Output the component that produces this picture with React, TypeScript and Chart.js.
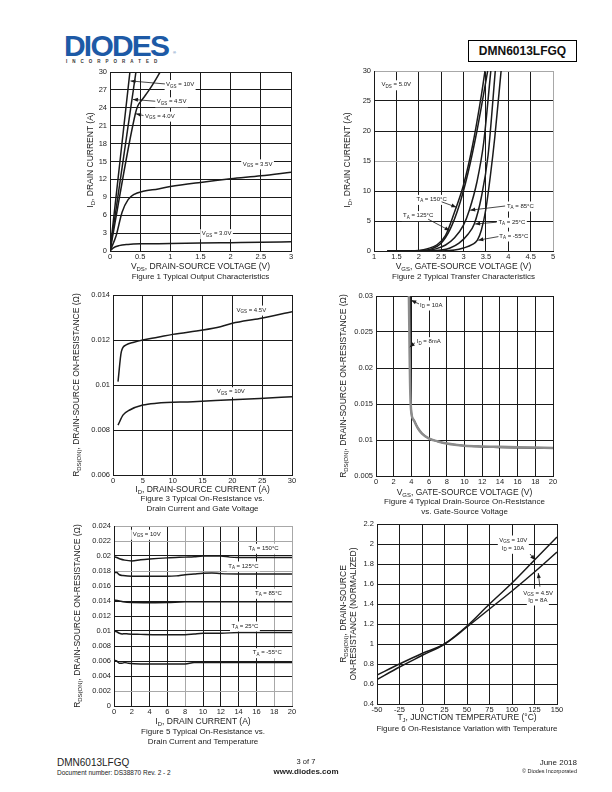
import React, { useEffect, useRef } from "react";
import { Chart, registerables } from "chart.js";
Chart.register(...registerables);

type Pt = [number, number];
const FONT = "'Liberation Sans', Arial, Helvetica, sans-serif";

// ---------------- Figure 1: Typical Output Characteristics
const f1XTicks = [0, 0.5, 1, 1.5, 2, 2.5, 3];
const f1XLabels = ["0", "0.5", "1", "1.5", "2", "2.5", "3"];
const f1YTicks = [0, 3, 6, 9, 12, 15, 18, 21, 24, 27, 30];
const f1YLabels = ["0", "3", "6", "9", "12", "15", "18", "21", "24", "27", "30"];
const f1Vgs10: Pt[] = [[0, 0], [0.33, 30]];
const f1Vgs45: Pt[] = [[0, 0], [0.43, 30]];
const f1Vgs40: Pt[] = [[0, 0], [0.42, 23], [0.46, 24.3], [0.55, 25.6], [0.65, 27], [0.75, 28.6], [0.83, 30]];
const f1Vgs35: Pt[] = [[0, 0], [0.1, 2.5], [0.2, 6.5], [0.3, 8.6], [0.4, 9.5], [0.55, 10], [0.8, 10.4], [1, 10.8], [1.5, 11.5], [2, 12.1], [2.5, 12.6], [3, 13.2]];
const f1Vgs30: Pt[] = [[0, 0], [0.05, 0.5], [0.15, 0.9], [0.3, 1.1], [0.5, 1.2], [1, 1.25], [1.5, 1.35], [2, 1.4], [2.5, 1.45], [3, 1.55]];

// ---------------- Figure 2: Typical Transfer Characteristics
const f2XTicks = [1, 1.5, 2, 2.5, 3, 3.5, 4, 4.5, 5];
const f2XLabels = ["1", "1.5", "2", "2.5", "3", "3.5", "4", "4.5", "5"];
const f2YTicks = [0, 5, 10, 15, 20, 25, 30];
const f2YLabels = ["0", "5", "10", "15", "20", "25", "30"];
const f2T150: Pt[] = [[1.3, 0], [1.8, 0.02], [2.0, 0.1], [2.2, 0.4], [2.4, 1.0], [2.6, 2.6], [2.8, 6.5], [3.0, 11], [3.2, 17.5], [3.4, 26], [3.48, 30]];
const f2T125: Pt[] = [[1.3, 0], [1.9, 0.02], [2.1, 0.1], [2.3, 0.4], [2.5, 1.3], [2.7, 3.6], [2.9, 7.5], [3.1, 13], [3.3, 20], [3.54, 30]];
const f2T85: Pt[] = [[1.3, 0], [2.0, 0.02], [2.2, 0.1], [2.4, 0.4], [2.6, 1.0], [2.8, 2.2], [3.0, 4.3], [3.13, 6.8], [3.3, 11.5], [3.45, 18], [3.61, 30]];
const f2T25: Pt[] = [[1.3, 0], [2.2, 0.02], [2.5, 0.15], [2.7, 0.5], [2.9, 1.3], [3.1, 2.8], [3.24, 4.5], [3.4, 9], [3.55, 16], [3.71, 30]];
const f2Tm55: Pt[] = [[1.3, 0], [2.5, 0.02], [2.8, 0.15], [3.0, 0.5], [3.2, 1.1], [3.31, 1.8], [3.4, 3.5], [3.5, 7], [3.6, 12.5], [3.7, 19], [3.84, 30]];

// ---------------- Figure 3: On-Resistance vs Drain Current and Gate Voltage
const f3XTicks = [0, 5, 10, 15, 20, 25, 30];
const f3XLabels = ["0", "5", "10", "15", "20", "25", "30"];
const f3YTicks = [0.006, 0.008, 0.01, 0.012, 0.014];
const f3YLabels = ["0.006", "0.008", "0.01", "0.012", "0.014"];
const f3Vgs45: Pt[] = [[0.84, 0.01015], [1.4, 0.01148], [2.2, 0.01178], [3.5, 0.0119], [5, 0.012], [7.5, 0.01212], [10, 0.01225], [15, 0.01244], [18, 0.01259], [20, 0.01274], [24.6, 0.01296], [30, 0.01326]];
const f3Vgs10: Pt[] = [[0.84, 0.00822], [1.7, 0.00867], [2.8, 0.00889], [5, 0.00911], [7.3, 0.00919], [13.4, 0.00926], [19, 0.00933], [24.6, 0.0094], [30, 0.00948]];

// ---------------- Figure 4: On-Resistance vs Gate-Source Voltage
const f4XTicks = [0, 2, 4, 6, 8, 10, 12, 14, 16, 18, 20];
const f4XLabels = ["0", "2", "4", "6", "8", "10", "12", "14", "16", "18", "20"];
const f4YTicks = [0.005, 0.01, 0.015, 0.02, 0.025, 0.03];
const f4YLabels = ["0.005", "0.01", "0.015", "0.02", "0.025", "0.03"];
const f4Id8mA: Pt[] = [[3.72, 0.03], [3.76, 0.026], [3.8, 0.022], [3.85, 0.018], [3.92, 0.015], [4.0, 0.0137], [4.3, 0.0127], [4.7, 0.0117], [5.2, 0.0109], [6, 0.0102], [7, 0.0098], [8, 0.0095], [10, 0.0092], [12, 0.0091], [14, 0.00905], [16, 0.009], [18, 0.00895], [20, 0.0089]];
const f4Id10A: Pt[] = [[3.88, 0.03], [3.9, 0.025], [3.93, 0.02], [3.96, 0.016], [4.0, 0.0138], [4.3, 0.0127], [4.7, 0.0117], [5.2, 0.0109], [6, 0.0102], [7, 0.0098], [8, 0.0095], [10, 0.0092], [12, 0.00905], [14, 0.00897], [16, 0.00892], [18, 0.00888], [20, 0.00885]];

// ---------------- Figure 5: On-Resistance vs Drain Current and Temperature
const f5XTicks = [0, 2, 4, 6, 8, 10, 12, 14, 16, 18, 20];
const f5XLabels = ["0", "2", "4", "6", "8", "10", "12", "14", "16", "18", "20"];
const f5YTicks = [0, 0.002, 0.004, 0.006, 0.008, 0.01, 0.012, 0.014, 0.016, 0.018, 0.02, 0.022, 0.024];
const f5YLabels = ["0", "0.002", "0.004", "0.006", "0.008", "0.01", "0.012", "0.014", "0.016", "0.018", "0.02", "0.022", "0.024"];
const f5T150: Pt[] = [[0, 0.0199], [0.3, 0.0198], [0.7, 0.0196], [1.2, 0.01945], [2, 0.01935], [3, 0.0195], [4, 0.0196], [6, 0.01975], [8, 0.01985], [9, 0.0199], [10, 0.02], [12, 0.02], [13, 0.01985], [14, 0.0198], [20, 0.0198]];
const f5T125: Pt[] = [[0, 0.0178], [0.3, 0.0178], [0.6, 0.0175], [1, 0.0174], [2, 0.0173], [4, 0.0173], [6, 0.0173], [7, 0.01735], [8, 0.0175], [9, 0.0176], [10, 0.0177], [11, 0.01775], [12, 0.01765], [14, 0.0176], [20, 0.0176]];
const f5T85: Pt[] = [[0, 0.0141], [0.5, 0.01405], [1, 0.0139], [2, 0.0138], [4, 0.01378], [6, 0.0138], [8, 0.0139], [10, 0.0139], [14, 0.0139], [20, 0.0139]];
const f5T25: Pt[] = [[0, 0.01], [0.3, 0.0099], [0.6, 0.0097], [0.9, 0.0096], [1.2, 0.00965], [1.6, 0.0096], [3, 0.00955], [5, 0.0095], [8, 0.0095], [9, 0.0096], [10, 0.0097], [12, 0.0097], [14, 0.0098], [20, 0.0098]];
const f5Tm55: Pt[] = [[0, 0.0061], [0.3, 0.006], [0.6, 0.0057], [0.9, 0.0057], [1.2, 0.0058], [1.6, 0.0057], [3, 0.0056], [6, 0.0056], [8, 0.0056], [9, 0.0058], [12, 0.0058], [20, 0.0058]];

// ---------------- Figure 6: On-Resistance vs Temperature
const f6XTicks = [-50, -25, 0, 25, 50, 75, 100, 125, 150];
const f6XLabels = ["-50", "-25", "0", "25", "50", "75", "100", "125", "150"];
const f6YTicks = [0.4, 0.6, 0.8, 1, 1.2, 1.4, 1.6, 1.8, 2, 2.2];
const f6YLabels = ["0.4", "0.6", "0.8", "1", "1.2", "1.4", "1.6", "1.8", "2", "2.2"];
const f6Vgs10: Pt[] = [[-50, 0.645], [-25, 0.77], [0, 0.885], [25, 1.0], [50, 1.18], [75, 1.4], [100, 1.61], [125, 1.84], [150, 2.07]];
const f6Vgs45: Pt[] = [[-50, 0.69], [-25, 0.8], [0, 0.905], [25, 1.0], [50, 1.17], [75, 1.35], [100, 1.53], [125, 1.72], [150, 1.92]];

// ---------------- generic panel
interface Ann { text: string; at: Pt; from?: Pt; to?: Pt; bg?: boolean }
interface Series { data: Pt[]; color: string; width: number }
interface Spec {
  box: { l: number; t: number; w: number; h: number };
  xMin: number; xMax: number; xTicks: number[]; xLabels: string[];
  yMin: number; yMax: number; yTicks: number[]; yLabels: string[];
  series: Series[]; anns: Ann[];
  xGray?: number[]; yGray?: number[];
}

const WY = 36, PT = 8, PR = 12, HX = 16;
const INK = "#1a1a1a";
const GRAY = "#a8a8a8";

function parseLabel(s: string) {
  const out: { t: string; sub: boolean }[] = [];
  const re = /_\{([^}]*)\}/g;
  let last = 0;
  let m: RegExpExecArray | null;
  while ((m = re.exec(s))) {
    if (m.index > last) out.push({ t: s.slice(last, m.index), sub: false });
    out.push({ t: m[1], sub: true });
    last = re.lastIndex;
  }
  if (last < s.length) out.push({ t: s.slice(last), sub: false });
  return out;
}

const near = (a: number, b: number) => Math.abs(a - b) < 1e-9;

function Panel({ spec }: { spec: Spec }) {
  const ref = useRef<HTMLCanvasElement>(null);
  useEffect(() => {
    const c = ref.current!;
    const annPlugin = {
      id: "anns",
      afterDatasetsDraw(chart: any) {
        const ctx: CanvasRenderingContext2D = chart.ctx;
        const xs = chart.scales.x, ys = chart.scales.y;
        const main = `6px ${FONT}`, sub = `4.5px ${FONT}`;
        ctx.save();
        const items = spec.anns.map((a) => {
          const segs = parseLabel(a.text);
          let w = 0;
          for (const g of segs) { ctx.font = g.sub ? sub : main; w += ctx.measureText(g.t).width; }
          return { a, segs, w, x: xs.getPixelForValue(a.at[0]), y: ys.getPixelForValue(a.at[1]) };
        });
        for (const it of items) {
          if (it.a.bg !== false) { ctx.fillStyle = "#fff"; ctx.fillRect(it.x - 1.5, it.y - 4.5, it.w + 3, 10); }
        }
        for (const it of items) {
          const a = it.a;
          if (a.from && a.to) {
            const x0 = xs.getPixelForValue(a.from[0]), y0 = ys.getPixelForValue(a.from[1]);
            const x1 = xs.getPixelForValue(a.to[0]), y1 = ys.getPixelForValue(a.to[1]);
            ctx.strokeStyle = INK; ctx.lineWidth = 0.8;
            ctx.beginPath(); ctx.moveTo(x0, y0); ctx.lineTo(x1, y1); ctx.stroke();
            const ang = Math.atan2(y1 - y0, x1 - x0), L = 5, W = 2;
            ctx.fillStyle = INK; ctx.beginPath();
            ctx.moveTo(x1, y1);
            ctx.lineTo(x1 - L * Math.cos(ang) + W * Math.sin(ang), y1 - L * Math.sin(ang) - W * Math.cos(ang));
            ctx.lineTo(x1 - L * Math.cos(ang) - W * Math.sin(ang), y1 - L * Math.sin(ang) + W * Math.cos(ang));
            ctx.closePath(); ctx.fill();
          }
        }
        for (const it of items) {
          let x = it.x;
          ctx.fillStyle = INK; ctx.textBaseline = "middle"; ctx.textAlign = "left";
          for (const g of it.segs) {
            ctx.font = g.sub ? sub : main;
            ctx.fillText(g.t, x, g.sub ? it.y + 1.8 : it.y);
            x += ctx.measureText(g.t).width;
          }
        }
        ctx.restore();
      },
    };
    const tickFont = { family: FONT, size: 7.5 };
    const chart = new Chart(c, {
      type: "scatter",
      data: {
        datasets: spec.series.map((s) => ({
          data: s.data.map(([x, y]) => ({ x, y })),
          showLine: true,
          borderColor: s.color,
          borderWidth: s.width,
          pointRadius: 0,
          cubicInterpolationMode: "monotone" as const,
          fill: false,
        })),
      },
      options: {
        responsive: false,
        animation: false,
        devicePixelRatio: 1,
        layout: { padding: { top: PT, right: PR, left: 0, bottom: 0 } },
        plugins: { legend: { display: false }, tooltip: { enabled: false } },
        scales: {
          x: {
            type: "linear", min: spec.xMin, max: spec.xMax,
            afterBuildTicks: (sc: any) => { sc.ticks = spec.xTicks.map((v) => ({ value: v })); },
            afterFit: (sc: any) => { sc.height = HX; },
            grid: {
              drawTicks: false, lineWidth: 1,
              color: (cx: any) => ((spec.xGray || []).some((g) => near(g, cx.tick?.value)) ? GRAY : INK),
            },
            border: { display: true, color: INK, width: 1 },
            ticks: { padding: 1, autoSkip: false, maxRotation: 0, color: "#222", font: tickFont, callback: (_v: any, i: number) => spec.xLabels[i] },
          },
          y: {
            type: "linear", min: spec.yMin, max: spec.yMax,
            afterBuildTicks: (sc: any) => { sc.ticks = spec.yTicks.map((v) => ({ value: v })); },
            afterFit: (sc: any) => { sc.width = WY; },
            grid: {
              drawTicks: false, lineWidth: 1,
              color: (cx: any) => ((spec.yGray || []).some((g) => near(g, cx.tick?.value)) ? GRAY : INK),
            },
            border: { display: true, color: INK, width: 1 },
            ticks: { padding: 3, autoSkip: false, color: "#222", font: tickFont, callback: (_v: any, i: number) => spec.yLabels[i] },
          },
        },
      } as any,
      plugins: [annPlugin],
    });
    return () => chart.destroy();
  }, [spec]);
  const { l, t, w, h } = spec.box;
  const cw = WY + w + PR, chh = PT + h + HX;
  return (
    <canvas ref={ref} width={cw} height={chh}
      style={{ position: "absolute", left: l - WY, top: t - PT, width: cw, height: chh }} />
  );
}

function Rich({ s }: { s: string }) {
  return (
    <>
      {parseLabel(s).map((g, i) =>
        g.sub ? (
          <span key={i} style={{ fontSize: "0.7em", position: "relative", top: "0.35em" }}>{g.t}</span>
        ) : (
          <span key={i}>{g.t}</span>
        )
      )}
    </>
  );
}

function T({ x, y, s, size = 8.5, rot = false, bold = false, align = "center", color = "#222" }:
  { x: number; y: number; s: string; size?: number; rot?: boolean; bold?: boolean; align?: string; color?: string }) {
  const tx = align === "center" ? "-50%" : align === "right" ? "-100%" : "0";
  return (
    <div style={{
      position: "absolute", left: x, top: y, whiteSpace: "nowrap", fontFamily: FONT, fontSize: size,
      lineHeight: 1, color, fontWeight: bold ? "bold" : "normal",
      transform: `translate(${tx},-50%)${rot ? " rotate(-90deg)" : ""}`,
    }}>
      <Rich s={s} />
    </div>
  );
}

const spec1: Spec = {
  box: { l: 110, t: 72, w: 181, h: 179 },
  xMin: 0, xMax: 3, xTicks: f1XTicks, xLabels: f1XLabels,
  yMin: 0, yMax: 30, yTicks: f1YTicks, yLabels: f1YLabels,
  series: [
    { data: f1Vgs10, color: INK, width: 1.5 },
    { data: f1Vgs45, color: INK, width: 1.5 },
    { data: f1Vgs40, color: INK, width: 1.5 },
    { data: f1Vgs35, color: INK, width: 1.5 },
    { data: f1Vgs30, color: INK, width: 1.5 },
  ],
  anns: [
    { text: "V_{GS} = 10V", at: [0.93, 27.9], from: [0.91, 28.0], to: [0.34, 28.5] },
    { text: "V_{GS} = 4.5V", at: [0.775, 25.0], from: [0.75, 25.1], to: [0.38, 25.4] },
    { text: "V_{GS} = 4.0V", at: [0.58, 22.6], from: [0.555, 22.7], to: [0.43, 23.0] },
    { text: "V_{GS} = 3.5V", at: [2.2, 14.6] },
    { text: "V_{GS} = 3.0V", at: [1.52, 2.9] },
  ],
};

const spec2: Spec = {
  box: { l: 374, t: 71, w: 179, h: 180 },
  xMin: 1, xMax: 5, xTicks: f2XTicks, xLabels: f2XLabels,
  yMin: 0, yMax: 30, yTicks: f2YTicks, yLabels: f2YLabels,
  series: [
    { data: f2T150, color: INK, width: 1.5 },
    { data: f2T125, color: INK, width: 1.5 },
    { data: f2T85, color: INK, width: 1.5 },
    { data: f2T25, color: INK, width: 1.5 },
    { data: f2Tm55, color: INK, width: 1.5 },
  ],
  anns: [
    { text: "V_{DS} = 5.0V", at: [1.17, 27.7] },
    { text: "T_{A} = 150°C", at: [1.95, 8.6], from: [2.51, 8.2], to: [2.84, 7.3] },
    { text: "T_{A} = 125°C", at: [1.65, 5.9], from: [2.21, 5.3], to: [2.69, 3.4] },
    { text: "T_{A} = 85°C", at: [3.97, 7.5], from: [3.93, 7.5], to: [3.15, 6.8] },
    { text: "T_{A} = 25°C", at: [3.78, 4.8], from: [3.74, 4.8], to: [3.26, 4.5] },
    { text: "T_{A} = -55°C", at: [3.8, 2.5], from: [3.78, 2.4], to: [3.33, 1.8] },
  ],
  xGray: [5], yGray: [15, 30],
};

const spec3: Spec = {
  box: { l: 113, t: 295, w: 179, h: 180 },
  xMin: 0, xMax: 30, xTicks: f3XTicks, xLabels: f3XLabels,
  yMin: 0.006, yMax: 0.014, yTicks: f3YTicks, yLabels: f3YLabels,
  series: [
    { data: f3Vgs45, color: INK, width: 1.5 },
    { data: f3Vgs10, color: INK, width: 1.5 },
  ],
  anns: [
    { text: "V_{GS} = 4.5V", at: [20.7, 0.01333] },
    { text: "V_{GS} = 10V", at: [17.4, 0.0097] },
  ],
};

const spec4: Spec = {
  box: { l: 376, t: 296, w: 177, h: 180 },
  xMin: 0, xMax: 20, xTicks: f4XTicks, xLabels: f4XLabels,
  yMin: 0.005, yMax: 0.03, yTicks: f4YTicks, yLabels: f4YLabels,
  series: [
    { data: f4Id8mA, color: "#8c8c8c", width: 2.5 },
    { data: f4Id10A, color: INK, width: 1.5 },
  ],
  anns: [
    { text: "I_{D} = 10A", at: [4.97, 0.02875], from: [4.86, 0.0289], to: [3.98, 0.0294] },
    { text: "I_{D} = 8mA", at: [4.6, 0.02365], from: [4.4, 0.0235], to: [3.82, 0.0229] },
  ],
};

const spec5: Spec = {
  box: { l: 114, t: 526, w: 178, h: 180 },
  xMin: 0, xMax: 20, xTicks: f5XTicks, xLabels: f5XLabels,
  yMin: 0, yMax: 0.024, yTicks: f5YTicks, yLabels: f5YLabels,
  series: [
    { data: f5T150, color: INK, width: 1.5 },
    { data: f5T125, color: INK, width: 1.5 },
    { data: f5T85, color: INK, width: 1.5 },
    { data: f5T25, color: INK, width: 1.5 },
    { data: f5Tm55, color: INK, width: 1.5 },
  ],
  anns: [
    { text: "V_{GS} = 10V", at: [2.1, 0.0229] },
    { text: "T_{A} = 150°C", at: [15.1, 0.02103] },
    { text: "T_{A} = 125°C", at: [12.84, 0.01867] },
    { text: "T_{A} = 85°C", at: [15.84, 0.01503] },
    { text: "T_{A} = 25°C", at: [13.2, 0.01067] },
    { text: "T_{A} = -55°C", at: [15.6, 0.00711] },
  ],
  xGray: [8, 18, 20], yGray: [0.002, 0.018, 0.022, 0.024],
};

const spec6: Spec = {
  box: { l: 377, t: 524, w: 180, h: 180 },
  xMin: -50, xMax: 150, xTicks: f6XTicks, xLabels: f6XLabels,
  yMin: 0.4, yMax: 2.2, yTicks: f6YTicks, yLabels: f6YLabels,
  series: [
    { data: f6Vgs10, color: INK, width: 1.5 },
    { data: f6Vgs45, color: INK, width: 1.5 },
  ],
  anns: [
    { text: "V_{GS} = 10V", at: [85.9, 2.04] },
    { text: "I_{D} = 10A", at: [88.6, 1.957], from: [120, 1.9], to: [125.5, 1.84] },
    { text: "V_{GS} = 4.5V", at: [112.6, 1.507] },
    { text: "I_{D} = 8A", at: [118.1, 1.44], from: [131, 1.573], to: [129.2, 1.71] },
  ],
};

export default function App() {
  useEffect(() => {
    document.body.style.margin = "0";
    document.body.style.background = "#fff";
  }, []);
  return (
    <div style={{ position: "relative", width: 612, height: 792, background: "#fff", overflow: "hidden" }}>
      {/* header */}
      <div style={{ position: "absolute", left: 64, top: 31, fontFamily: FONT, fontWeight: "bold", fontSize: 30, lineHeight: "30px", letterSpacing: -1.8, color: "#1d5aa6" }}>DIODES</div>
      <div style={{ position: "absolute", left: 173, top: 50, fontFamily: FONT, fontSize: 4, color: "#1d5aa6" }}>®</div>
      <div style={{ position: "absolute", left: 66, top: 60, fontFamily: FONT, fontWeight: "bold", fontSize: 4.5, lineHeight: 1, letterSpacing: 5, color: "#333" }}>INCORPORATED</div>
      <div style={{ position: "absolute", left: 468, top: 40, width: 107, height: 20, border: "1px solid #000", display: "flex", alignItems: "center", justifyContent: "center", fontFamily: FONT, fontWeight: "bold", fontSize: 12, color: "#111" }}>DMN6013LFGQ</div>

      <Panel spec={spec1} />
      <Panel spec={spec2} />
      <Panel spec={spec3} />
      <Panel spec={spec4} />
      <Panel spec={spec5} />
      <Panel spec={spec6} />

      {/* Figure 1 */}
      <T x={90} y={160} rot s="I_{D}, DRAIN CURRENT (A)" />
      <T x={200.5} y={266} s="V_{DS}, DRAIN-SOURCE VOLTAGE (V)" />
      <T x={200.5} y={277} size={8} s="Figure 1 Typical Output Characteristics" />
      {/* Figure 2 */}
      <T x={347} y={160} rot s="I_{D}, DRAIN CURRENT (A)" />
      <T x={463.5} y={266} s="V_{GS}, GATE-SOURCE VOLTAGE (V)" />
      <T x={463.5} y={277} size={8} s="Figure 2 Typical Transfer Characteristics" />
      {/* Figure 3 */}
      <T x={76} y={385} rot s="R_{DS(ON)}, DRAIN-SOURCE ON-RESISTANCE (Ω)" />
      <T x={202.5} y={489} s="I_{D}, DRAIN-SOURCE CURRENT (A)" />
      <T x={202.5} y={499} size={8} s="Figure 3 Typical On-Resistance vs." />
      <T x={202.5} y={508.5} size={8} s="Drain Current and Gate Voltage" />
      {/* Figure 4 */}
      <T x={343} y={386} rot s="R_{DS(ON)}, DRAIN-SOURCE ON-RESISTANCE (Ω)" />
      <T x={464.5} y={492} s="V_{GS}, GATE-SOURCE VOLTAGE (V)" />
      <T x={464.5} y={502} size={8} s="Figure 4 Typical Drain-Source On-Resistance" />
      <T x={464.5} y={511.5} size={8} s="vs. Gate-Source Voltage" />
      {/* Figure 5 */}
      <T x={77} y={616} rot s="R_{DS(ON)}, DRAIN-SOURCE ON-RESISTANCE (Ω)" />
      <T x={203} y={721} s="I_{D}, DRAIN CURRENT (A)" />
      <T x={203} y={732} size={8} s="Figure 5 Typical On-Resistance vs." />
      <T x={203} y={741.5} size={8} s="Drain Current and Temperature" />
      {/* Figure 6 */}
      <T x={343} y={614} rot s="R_{DS(ON)}, DRAIN-SOURCE" />
      <T x={353} y={614} rot s="ON-RESISTANCE (NORMALIZED)" />
      <T x={467} y={717} s="T_{J}, JUNCTION TEMPERATURE (°C)" />
      <T x={467} y={729} size={8} s="Figure 6 On-Resistance Variation with Temperature" />

      {/* footer */}
      <T x={57} y={763} align="left" size={10} s="DMN6013LFGQ" />
      <T x={57} y={773} align="left" size={6.5} s="Document number: DS38870  Rev. 2 - 2" />
      <T x={306} y={762} size={7.5} s="3 of 7" />
      <T x={306} y={772} size={8} bold s="www.diodes.com" />
      <T x={577} y={763} align="right" size={8} s="June 2018" />
      <T x={577} y={772} align="right" size={5.5} s="© Diodes Incorporated" />
    </div>
  );
}
